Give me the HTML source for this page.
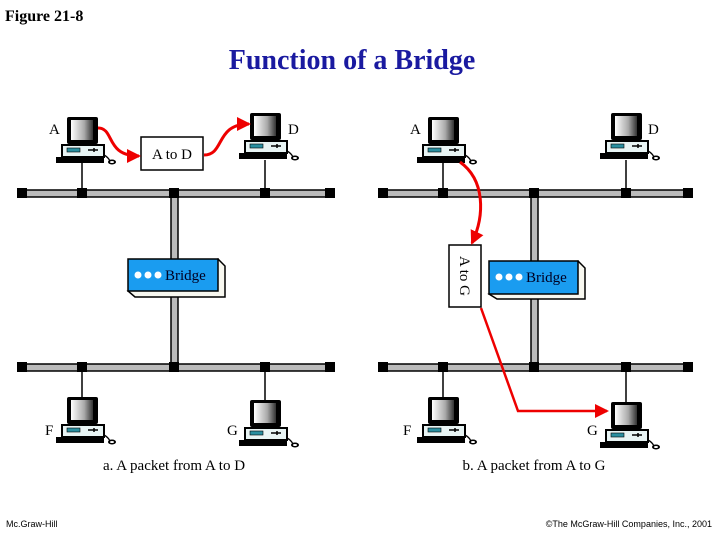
<!DOCTYPE html>
<html><head><style>
body{margin:0;background:#fff;}
svg{display:block;}
</style></head><body>
<svg width="720" height="540" viewBox="0 0 720 540" xmlns="http://www.w3.org/2000/svg" font-family="Liberation Serif, serif">
<defs>
<linearGradient id="scr" x1="0" y1="0" x2="1" y2="0">
<stop offset="0" stop-color="#fff"/><stop offset="0.6" stop-color="#aaa"/><stop offset="1" stop-color="#333"/>
</linearGradient>
<g id="pc">
<rect x="-15" y="0" width="31" height="27" rx="2" fill="#000"/>
<rect x="-11" y="3" width="22" height="20" fill="url(#scr)"/>
<rect x="-4" y="27" width="9" height="2" fill="#000"/>
<rect x="-20" y="28" width="42" height="12" fill="#e8f4f4" stroke="#000" stroke-width="2"/>
<rect x="-15" y="31" width="13" height="4" fill="#2a8fa0" stroke="#000" stroke-width="0.6"/>
<path d="M6 33 h10 M12 31 v4" stroke="#000" stroke-width="1.5"/>
<rect x="-26" y="40" width="48" height="6" fill="#000"/>
<path d="M22 38 q4 2 6 6" stroke="#000" stroke-width="1.3" fill="none"/>
<ellipse cx="30" cy="45" rx="4" ry="2.5" fill="#000"/>
<ellipse cx="30" cy="45" rx="2" ry="1" fill="#fff"/>
</g>
<g id="node"><rect x="-5" y="-5" width="10" height="10" fill="#000"/></g>
<marker id="ah" markerWidth="14" markerHeight="14" refX="12" refY="7" orient="auto" markerUnits="userSpaceOnUse">
<path d="M0 0 L14 7 L0 14 Z" fill="#e00"/></marker>
</defs>

<text x="5" y="21" font-size="16" font-weight="bold">Figure 21-8</text>
<text x="352" y="69" font-size="28" font-weight="bold" text-anchor="middle" fill="#1a1aa0">Function of a Bridge</text>

<!-- LEFT -->
<g>
<line x1="82" y1="163" x2="82" y2="193" stroke="#000" stroke-width="1.5"/>
<line x1="265" y1="160" x2="265" y2="193" stroke="#000" stroke-width="1.5"/>
<line x1="82" y1="367" x2="82" y2="398" stroke="#000" stroke-width="1.5"/>
<line x1="265" y1="367" x2="265" y2="400" stroke="#000" stroke-width="1.5"/>
<rect x="18" y="190" width="316" height="7" fill="#bbb" stroke="#000" stroke-width="1.5"/>
<rect x="18" y="364" width="316" height="7" fill="#bbb" stroke="#000" stroke-width="1.5"/>
<rect x="171" y="193" width="7" height="174" fill="#bbb" stroke="#000" stroke-width="1.5"/>
<use href="#node" x="22" y="193"/><use href="#node" x="82" y="193"/><use href="#node" x="174" y="193"/><use href="#node" x="265" y="193"/><use href="#node" x="330" y="193"/>
<use href="#node" x="22" y="367"/><use href="#node" x="82" y="367"/><use href="#node" x="174" y="367"/><use href="#node" x="265" y="367"/><use href="#node" x="330" y="367"/>
<path d="M218 259 L225 266 L225 297 L135 297 L128 291 Z" fill="#f8f8f0" stroke="#000" stroke-width="1.5"/>
<rect x="128" y="259" width="90" height="32" fill="#1a9cf0" stroke="#000" stroke-width="1.5"/>
<circle cx="138" cy="275" r="3.5" fill="#fff"/><circle cx="148" cy="275" r="3.5" fill="#fff"/><circle cx="158" cy="275" r="3.5" fill="#fff"/>
<text x="165" y="280" font-size="15" fill="#002">Bridge</text>
<use href="#pc" x="82" y="117"/>
<use href="#pc" x="265" y="113"/>
<use href="#pc" x="82" y="397"/>
<use href="#pc" x="265" y="400"/>
<text x="49" y="134" font-size="15">A</text>
<text x="288" y="134" font-size="15">D</text>
<text x="45" y="435" font-size="15">F</text>
<text x="227" y="435" font-size="15">G</text>
<rect x="141" y="137" width="62" height="33" fill="#fff" stroke="#000" stroke-width="1.5"/>
<text x="172" y="159" font-size="15" text-anchor="middle">A to D</text>
<path d="M98 128 C115 128 105 156 139 156" stroke="#e00" stroke-width="3" fill="none" marker-end="url(#ah)"/>
<path d="M204 155 C225 155 215 124 249 124" stroke="#e00" stroke-width="3" fill="none" marker-end="url(#ah)"/>
<text x="174" y="470" font-size="15" text-anchor="middle">a. A packet from A to D</text>
</g>

<!-- RIGHT -->
<g>
<line x1="443" y1="163" x2="443" y2="193" stroke="#000" stroke-width="1.5"/>
<line x1="626" y1="160" x2="626" y2="193" stroke="#000" stroke-width="1.5"/>
<line x1="443" y1="367" x2="443" y2="398" stroke="#000" stroke-width="1.5"/>
<line x1="626" y1="367" x2="626" y2="402" stroke="#000" stroke-width="1.5"/>
<rect x="379" y="190" width="313" height="7" fill="#bbb" stroke="#000" stroke-width="1.5"/>
<rect x="379" y="364" width="313" height="7" fill="#bbb" stroke="#000" stroke-width="1.5"/>
<rect x="531" y="193" width="7" height="174" fill="#bbb" stroke="#000" stroke-width="1.5"/>
<use href="#node" x="383" y="193"/><use href="#node" x="443" y="193"/><use href="#node" x="534" y="193"/><use href="#node" x="626" y="193"/><use href="#node" x="688" y="193"/>
<use href="#node" x="383" y="367"/><use href="#node" x="443" y="367"/><use href="#node" x="534" y="367"/><use href="#node" x="626" y="367"/><use href="#node" x="688" y="367"/>
<path d="M578 261 L585 268 L585 299 L497 299 L489 294 Z" fill="#f8f8f0" stroke="#000" stroke-width="1.5"/>
<rect x="489" y="261" width="89" height="33" fill="#1a9cf0" stroke="#000" stroke-width="1.5"/>
<circle cx="499" cy="277" r="3.5" fill="#fff"/><circle cx="509" cy="277" r="3.5" fill="#fff"/><circle cx="519" cy="277" r="3.5" fill="#fff"/>
<text x="526" y="282" font-size="15" fill="#002">Bridge</text>
<use href="#pc" x="443" y="117"/>
<use href="#pc" x="626" y="113"/>
<use href="#pc" x="443" y="397"/>
<use href="#pc" x="626" y="402"/>
<text x="410" y="134" font-size="15">A</text>
<text x="648" y="134" font-size="15">D</text>
<text x="403" y="435" font-size="15">F</text>
<text x="587" y="435" font-size="15">G</text>
<rect x="449" y="245" width="32" height="62" fill="#fff" stroke="#000" stroke-width="1.5"/>
<text transform="translate(460,276) rotate(90)" font-size="15" text-anchor="middle">A to G</text>
<path d="M460 162 C485 180 485 215 472 243" stroke="#e00" stroke-width="3" fill="none" marker-end="url(#ah)"/>
<path d="M481 308 L518 411 L607 411" stroke="#e00" stroke-width="2.5" fill="none" marker-end="url(#ah)"/>
<text x="534" y="470" font-size="15" text-anchor="middle">b. A packet from A to G</text>
</g>

<text x="6" y="527" font-size="9" font-family="Liberation Sans, sans-serif">Mc.Graw-Hill</text>
<text x="712" y="527" font-size="9" font-family="Liberation Sans, sans-serif" text-anchor="end">©The McGraw-Hill Companies, Inc., 2001</text>
</svg>
</body></html>
